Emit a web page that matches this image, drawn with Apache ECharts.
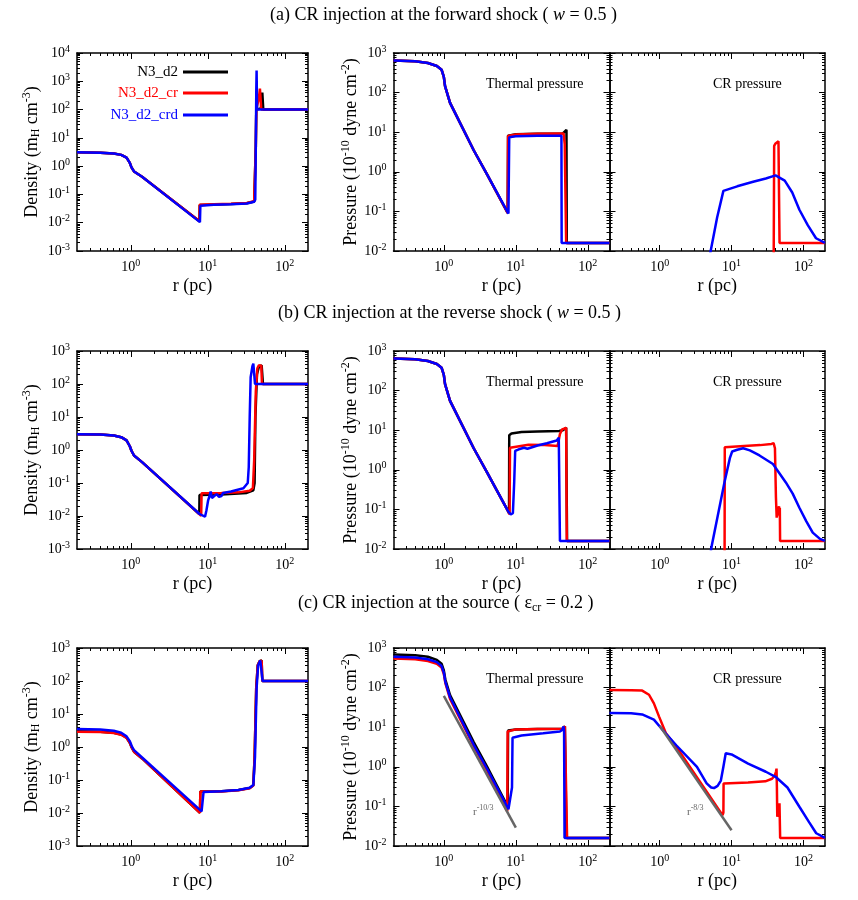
<!DOCTYPE html>
<html>
<head>
<meta charset="utf-8">
<script src="https://cdn.jsdelivr.net/npm/echarts@6/dist/echarts.min.js"></script>
<style>
  html, body { margin: 0; background: #fff; }
  #main { width: 858px; height: 900px; }
</style>
</head>
<body>
<div id="main"></div>
<script>
// data points are [r (pc), value]

// (a) forward shock
var aDenK = [[0.2,3.1],[0.4,3.0],[0.6,2.8],[0.75,2.5],[0.88,2.0],[0.97,1.3],[1.02,0.9],[1.1,0.65],[1.4,0.42],[7.8,0.0112],[7.85,0.042],[12,0.044],[20,0.046],[32,0.049],[40,0.056],[41.3,0.065],[42,5],[42.6,100],[49,110],[51,400],[52,380],[52.5,100],[200,100]];
var aDenR = [[0.2,3.1],[0.4,3.0],[0.6,2.8],[0.75,2.5],[0.88,2.0],[0.97,1.3],[1.02,0.9],[1.1,0.65],[1.4,0.42],[7.8,0.0112],[7.85,0.043],[12,0.045],[20,0.047],[32,0.05],[40,0.057],[41.3,0.065],[42,5],[42.6,100],[46,250],[47.5,550],[49,500],[49.5,100],[200,100]];
var aDenB = [[0.2,3.1],[0.4,3.0],[0.6,2.8],[0.75,2.5],[0.88,2.0],[0.97,1.3],[1.02,0.9],[1.1,0.65],[1.4,0.42],[7.9,0.0105],[8.0,0.04],[12,0.043],[20,0.045],[32,0.048],[40,0.055],[41.3,0.065],[42,5],[42.6,500],[43,2400],[43.6,100],[200,100]];
var aThK = [[0.2,650],[0.4,620],[0.6,560],[0.8,470],[0.93,380],[1.0,250],[1.04,145],[1.22,55],[2.6,3.5],[4,0.85],[7.7,0.092],[7.8,8.2],[10,8.9],[20,9.2],[45,9.3],[47,9.8],[50.5,11.5],[51,0.016],[200,0.016]];
var aThR = [[0.2,650],[0.4,620],[0.6,560],[0.8,470],[0.93,380],[1.0,250],[1.04,145],[1.22,55],[2.6,3.5],[4,0.85],[7.7,0.092],[7.8,8],[10,8.8],[20,9.1],[46,9.3],[47,9.4],[47.8,5],[49.5,5.5],[50,0.016],[200,0.016]];
var aThB = [[0.2,650],[0.4,620],[0.6,560],[0.8,470],[0.93,380],[1.0,250],[1.04,145],[1.22,55],[2.6,3.5],[4,0.85],[7.9,0.088],[8.1,7.5],[10,7.9],[20,8.1],[43,8.1],[43.3,0.016],[200,0.016]];
var aCrR = [[38.6,0.005],[39.2,4.5],[41,5.2],[45,5.9],[46,5.9],[46.6,0.016],[200,0.016]];
var aCrB = [[5.0,0.008],[6.3,0.07],[7.7,0.33],[12,0.43],[20,0.56],[30,0.68],[41,0.81],[55,0.6],[70,0.3],[88,0.11],[115,0.045],[150,0.021],[200,0.016]];

// (b) reverse shock
var bDenK = [[0.2,3.0],[0.4,2.95],[0.6,2.75],[0.75,2.45],[0.88,1.95],[0.97,1.3],[1.02,0.95],[1.1,0.68],[1.4,0.43],[7.75,0.0115],[7.8,0.043],[15,0.045],[25,0.048],[32,0.05],[39,0.06],[40.5,0.1],[41.5,10],[43.5,200],[46,330],[50,370],[51.5,350],[52,100],[200,100]];
var bDenR = [[0.2,3.0],[0.4,2.95],[0.6,2.75],[0.75,2.45],[0.88,1.95],[0.97,1.3],[1.02,0.95],[1.1,0.68],[1.4,0.43],[8.2,0.0102],[8.3,0.049],[15,0.05],[25,0.052],[35,0.058],[38.5,0.07],[40,0.5],[42,60],[44,300],[46,370],[49.5,360],[50.5,100],[200,100]];
var bDenB = [[0.2,3.0],[0.4,2.95],[0.6,2.75],[0.75,2.45],[0.88,1.95],[0.97,1.3],[1.02,0.95],[1.1,0.68],[1.4,0.43],[7.8,0.0115],[9.2,0.0095],[9.6,0.015],[10.1,0.03],[10.5,0.04],[10.9,0.055],[11.3,0.035],[11.8,0.036],[13,0.046],[14,0.038],[15,0.04],[15.8,0.05],[20,0.055],[29,0.069],[33,0.1],[34,0.3],[35,10],[36,160],[38,350],[39,415],[40,380],[41,100],[200,100]];
var bThK = [[0.2,650],[0.4,620],[0.6,560],[0.8,470],[0.93,380],[1.0,250],[1.04,145],[1.22,55],[2.6,3.5],[4,0.85],[7.8,0.09],[8.05,0.08],[8.1,7.5],[8.7,8.3],[12,9],[20,9.3],[40,9.5],[45,10],[50,11.5],[51.5,0.016],[200,0.016]];
var bThR = [[0.2,650],[0.4,620],[0.6,560],[0.8,470],[0.93,380],[1.0,250],[1.04,145],[1.22,55],[2.6,3.5],[4,0.85],[7.8,0.09],[8.2,0.075],[8.3,3.6],[8.8,4.0],[15,4.3],[25,4.2],[38,4.0],[40,3.9],[41,8],[44,10.5],[50,11.5],[51,0.016],[200,0.016]];
var bThB = [[0.2,650],[0.4,620],[0.6,560],[0.8,470],[0.93,380],[1.0,250],[1.04,145],[1.22,55],[2.6,3.5],[4,0.85],[7.8,0.09],[8.5,0.075],[9.1,0.08],[9.5,0.5],[9.8,3.0],[11,3.3],[13,3.6],[14.5,3.4],[15,3.7],[20,4.1],[27,4.7],[37,5.5],[39.5,6.5],[40.5,7],[41,0.016],[200,0.016]];
var bCrR = [[8.0,0.005],[8.05,3.7],[15,4.0],[25,4.2],[36,4.5],[38.5,4.7],[40.2,3.5],[41.5,0.2],[42.5,0.062],[45,0.062],[45.8,0.12],[46.3,0.07],[47,0.11],[47.4,0.016],[200,0.016]];
var bCrB = [[5.1,0.008],[5.3,0.012],[8,0.5],[9.5,2.0],[10.2,2.9],[12,3.2],[14.5,3.5],[14.7,3.3],[18,3.1],[24.5,2.3],[37.7,1.4],[57,0.48],[71,0.25],[88,0.11],[110,0.05],[135,0.026],[170,0.018],[200,0.016]];

// (c) source
var cDenK = [[0.2,3.0],[0.4,2.9],[0.6,2.7],[0.75,2.4],[0.88,1.9],[0.97,1.35],[1.03,0.95],[1.1,0.72],[1.4,0.45],[7.9,0.0102],[8.0,0.045],[15,0.046],[25,0.05],[35,0.057],[39,0.069],[40.5,0.5],[42.5,60],[44.5,300],[47,400],[50,420],[51,100],[200,100]];
var cDenR = [[0.2,2.9],[0.4,2.85],[0.6,2.65],[0.75,2.35],[0.88,1.9],[0.97,1.35],[1.03,0.95],[1.1,0.72],[1.4,0.45],[7.9,0.0102],[8.0,0.045],[15,0.045],[25,0.049],[35,0.056],[39,0.068],[40.5,0.5],[42.5,60],[44.5,300],[47,400],[50,410],[51,100],[200,100]];
var cDenB = [[0.2,3.5],[0.4,3.4],[0.6,3.1],[0.75,2.7],[0.88,2.1],[0.97,1.5],[1.03,1.05],[1.1,0.8],[1.4,0.48],[8.3,0.0112],[8.7,0.0115],[8.8,0.043],[15,0.046],[25,0.05],[35,0.058],[39,0.07],[41,0.5],[43,60],[45,300],[48,420],[50,440],[51.5,100],[200,100]];
var cThK = [[0.2,690],[0.4,660],[0.6,600],[0.8,500],[0.93,400],[1.0,270],[1.05,160],[1.22,65],[2.6,4.2],[4,1.0],[7.7,0.1],[7.8,8.3],[10,8.8],[20,9],[45,9.2],[48,10.5],[50,11],[50.5,0.016],[200,0.016]];
var cThR = [[0.2,540],[0.4,520],[0.6,470],[0.8,400],[0.93,320],[1.0,220],[1.05,130],[1.22,52],[2.6,3.3],[4,0.8],[7.6,0.075],[7.7,7.8],[10,8.8],[20,9.0],[45,9.2],[48,10.5],[51,11.5],[51.5,0.016],[200,0.016]];
var cThB = [[0.2,600],[0.4,575],[0.6,520],[0.8,440],[0.93,350],[1.0,240],[1.05,140],[1.22,57],[2.6,3.6],[4,0.88],[7.9,0.085],[8.4,0.082],[8.85,0.3],[9,5.4],[12,6.2],[24,7.0],[41,7.8],[44,8.5],[46,10.5],[46.8,8],[47.5,0.016],[200,0.016]];
var cCrR = [[0.2,87],[0.4,86],[0.57,84],[0.71,66],[0.83,40],[0.98,18.5],[1.22,7],[1.7,3.2],[7.5,0.06],[7.7,0.07],[7.75,0.38],[17,0.4],[29.5,0.43],[36.6,0.5],[40,0.6],[41.5,0.75],[42.3,0.9],[42.8,0.3],[43.3,0.055],[45.5,0.055],[46.5,0.12],[47.5,0.016],[200,0.016]];
var cCrB = [[0.2,23],[0.4,22.5],[0.57,21],[0.83,15.5],[1.1,8.5],[1.7,3.5],[3.3,1.0],[4.5,0.38],[5.2,0.3],[5.7,0.29],[6.4,0.33],[7.1,0.45],[7.7,1.0],[8.3,2.2],[10,2.05],[17,1.2],[30,0.75],[41,0.56],[60,0.3],[88,0.098],[120,0.04],[151,0.021],[200,0.016]];
// power-law guides
var cThSlope = [[1,62],[10,0.029]];
var cCrSlope = [[1,10.8],[10,0.025]];

var rRange = [0.2, 200];

var FONT = "'Liberation Serif', 'DejaVu Serif', serif";
var BLACK = '#000000', RED = '#ff0000', BLUE = '#0000ff', GRAY = '#666666';

var panels = [
  {left: 77,    top: 53,  w: 231,   h: 198, y: [1e-3, 1e4], yName: 'den', lines: [[aDenK, 'N3_d2'], [aDenR, 'N3_d2_cr'], [aDenB, 'N3_d2_crd']]},
  {left: 393.5, top: 53,  w: 216,   h: 198, y: [1e-2, 1e3], yName: 'pre', lines: [[aThK, 'N3_d2'], [aThR, 'N3_d2_cr'], [aThB, 'N3_d2_crd']]},
  {left: 609.5, top: 53,  w: 215.5, h: 198, y: [1e-2, 1e3], yName: null,  lines: [[aCrR, 'N3_d2_cr'], [aCrB, 'N3_d2_crd']]},
  {left: 77,    top: 351, w: 231,   h: 198, y: [1e-3, 1e3], yName: 'den', lines: [[bDenK, 'N3_d2'], [bDenR, 'N3_d2_cr'], [bDenB, 'N3_d2_crd']]},
  {left: 393.5, top: 351, w: 216,   h: 198, y: [1e-2, 1e3], yName: 'pre', lines: [[bThK, 'N3_d2'], [bThR, 'N3_d2_cr'], [bThB, 'N3_d2_crd']]},
  {left: 609.5, top: 351, w: 215.5, h: 198, y: [1e-2, 1e3], yName: null,  lines: [[bCrR, 'N3_d2_cr'], [bCrB, 'N3_d2_crd']]},
  {left: 77,    top: 648, w: 231,   h: 198, y: [1e-3, 1e3], yName: 'den', lines: [[cDenK, 'N3_d2'], [cDenR, 'N3_d2_cr'], [cDenB, 'N3_d2_crd']]},
  {left: 393.5, top: 648, w: 216,   h: 198, y: [1e-2, 1e3], yName: 'pre', lines: [[cThK, 'N3_d2'], [cThR, 'N3_d2_cr'], [cThB, 'N3_d2_crd'], [cThSlope, 'slope']]},
  {left: 609.5, top: 648, w: 215.5, h: 198, y: [1e-2, 1e3], yName: null,  lines: [[cCrR, 'N3_d2_cr'], [cCrB, 'N3_d2_crd'], [cCrSlope, 'slope']]}
];
var colorOf = {'N3_d2': BLACK, 'N3_d2_cr': RED, 'N3_d2_crd': BLUE, 'slope': GRAY};

function decades(lo, hi) {
  var out = [];
  for (var e = Math.ceil(Math.log10(lo) - 1e-9); e <= Math.floor(Math.log10(hi) + 1e-9); e++) out.push(Math.pow(10, e));
  return out;
}
function minors(lo, hi) {
  var out = [];
  for (var e = Math.floor(Math.log10(lo)) - 1; e <= Math.ceil(Math.log10(hi)); e++) {
    for (var m = 2; m <= 9; m++) {
      var v = +(m * Math.pow(10, e)).toPrecision(3);
      if (v > lo * 1.0001 && v < hi * 0.9999) out.push(v);
    }
  }
  return out;
}
function expLabel(v) {
  return '{b|10}{e|' + Math.round(Math.log10(v)) + '}';
}
var tickRich = {
  b: {fontFamily: FONT, fontSize: 14, color: '#000'},
  e: {fontFamily: FONT, fontSize: 10, color: '#000', padding: [0, 0, 8, 0]}
};
var nameRich = {
  n: {fontFamily: FONT, fontSize: 18, color: '#000'},
  sub: {fontFamily: FONT, fontSize: 12, color: '#000', padding: [8, 0, 0, 0]},
  sup: {fontFamily: FONT, fontSize: 12, color: '#000', padding: [0, 0, 10, 0]}
};

var grids = [], xAxes = [], yAxes = [], series = [];

function axis(g, range, pos, major, withLabel) {
  var a = {
    gridIndex: g, type: 'log', logBase: 10, min: range[0], max: range[1], position: pos,
    splitLine: {show: false}, silent: true,
    axisLine: {show: major, onZero: false, lineStyle: {color: '#000', width: 1.5}},
    axisTick: {inside: true, length: major ? 6 : 3,
      customValues: major ? decades(range[0], range[1]) : minors(range[0], range[1]),
      lineStyle: {color: '#000', width: 1}},
    axisLabel: {show: false}
  };
  if (withLabel) {
    a.axisLabel = {show: true, customValues: decades(range[0], range[1]), formatter: expLabel, rich: tickRich, margin: 7};
  }
  return a;
}

panels.forEach(function (p, g) {
  grids.push({left: p.left, top: p.top, width: p.w, height: p.h});
  var xi = xAxes.length, yi = yAxes.length;
  var xb = axis(g, rRange, 'bottom', true, true);
  xb.name = 'r (pc)';
  xb.nameLocation = 'middle';
  xb.nameGap = 26;
  xb.nameTextStyle = {fontFamily: FONT, fontSize: 18, color: '#000'};
  xAxes.push(xb, axis(g, rRange, 'bottom', false, false), axis(g, rRange, 'top', true, false), axis(g, rRange, 'top', false, false));
  var yl = axis(g, p.y, 'left', true, p.yName !== null);
  if (p.yName === 'den') {
    yl.name = '{n|Density (m}{sub|H}{n| cm}{sup|-3}{n|)}';
    yl.nameGap = 34;
  } else if (p.yName === 'pre') {
    yl.name = '{n|Pressure (10}{sup|-10}{n| dyne cm}{sup|-2}{n|)}';
    yl.nameGap = 30;
  }
  if (p.yName) {
    yl.nameLocation = 'middle';
    yl.nameRotate = 90;
    yl.nameTextStyle = {fontFamily: FONT, fontSize: 18, color: '#000', rich: nameRich};
  }
  yAxes.push(yl, axis(g, p.y, 'left', false, false), axis(g, p.y, 'right', true, false), axis(g, p.y, 'right', false, false));
  p.lines.forEach(function (ln) {
    series.push({
      type: 'line', name: ln[1], xAxisIndex: xi, yAxisIndex: yi, data: ln[0],
      symbol: 'none', showSymbol: false, animation: false, silent: true,
      lineStyle: {color: colorOf[ln[1]], width: 2.5},
      itemStyle: {color: colorOf[ln[1]]}
    });
  });
});

var titleRich = {
  i: {fontFamily: FONT, fontSize: 18, fontStyle: 'italic', color: '#000'},
  sub: {fontFamily: FONT, fontSize: 12, color: '#000', padding: [9, 0, 0, 0]},
  s: {fontFamily: FONT, fontSize: 8, color: GRAY, padding: [0, 0, 8, 0]}
};
function label(text, left, top, size, color) {
  return {text: text, left: left, top: top, padding: 0,
    textStyle: {fontFamily: FONT, fontSize: size, fontWeight: 'normal', color: color || '#000', rich: titleRich}};
}
var titles = [
  label('(a) CR injection at the forward shock ( {i|w} = 0.5 )', 270, 6, 18),
  label('(b) CR injection at the reverse shock ( {i|w} = 0.5 )', 278, 304, 18),
  label('(c) CR injection at the source ( \u03b5{sub|cr} = 0.2 )', 298, 593, 18),
  label('Thermal pressure', 486, 77, 14), label('CR pressure', 713, 77, 14),
  label('Thermal pressure', 486, 375, 14), label('CR pressure', 713, 375, 14),
  label('Thermal pressure', 486, 672, 14), label('CR pressure', 713, 672, 14),
  label('r{s|-10/3}', 473, 804, 11, GRAY),
  label('r{s|-8/3}', 687, 804, 11, GRAY)
];

var legends = [['N3_d2', BLACK, 64], ['N3_d2_cr', RED, 85], ['N3_d2_crd', BLUE, 107]].map(function (l) {
  return {
    data: [{name: l[0], icon: 'rect'}], right: 630, top: l[2], align: 'right', padding: 0,
    itemWidth: 45, itemHeight: 3, selectedMode: false,
    textStyle: {fontFamily: FONT, fontSize: 15, color: l[1], lineHeight: 16}
  };
});

var chart = echarts.init(document.getElementById('main'));
chart.setOption({
  backgroundColor: '#fff',
  animation: false,
  title: titles,
  legend: legends,
  grid: grids,
  xAxis: xAxes,
  yAxis: yAxes,
  series: series
});
</script>
</body>
</html>
